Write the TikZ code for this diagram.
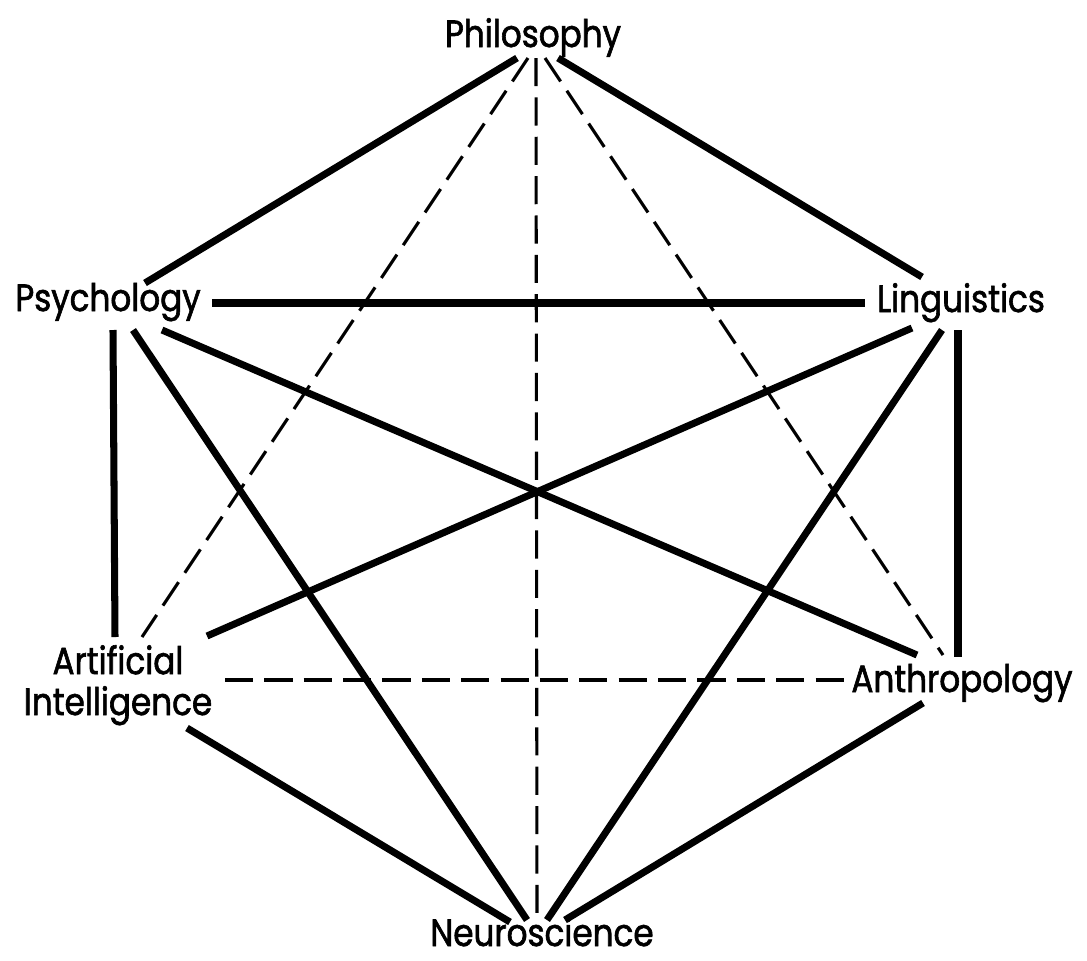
\documentclass[tikz,border=0pt]{standalone}
\usepackage{fontspec}
\setmainfont{Poppins}[FakeStretch=0.86,FakeBold=1.6]
\usetikzlibrary{calc}
\begin{document}
\begin{tikzpicture}[x=0.025cm,y=-0.025cm,
  lbl/.style={inner sep=0pt,anchor=base,font=\fontsize{27pt}{28.4pt}\selectfont},
  strong/.style={line width=5pt},
  weak/.style={line width=2.2pt,dash pattern=on 20pt off 8pt}]
\useasboundingbox (0,0) rectangle (1087,961);
\node[lbl] (phil) at (533,47) {Philosophy};
\node[lbl] (psy) at (108,311) {Psychology};
\node[lbl] (ling) at (961,312) {Linguistics};
\node[lbl] (ai) at (118,715) {\begin{tabular}[b]{@{}c@{}}Artificial\\Intelligence\end{tabular}};
\node[lbl] (anth) at (962,692) {Anthropology};
\node[lbl] (neu) at (542,946) {Neuroscience};
% Philosophy
\draw[strong] ($(phil.base)+(-16,11)$) -- ($(psy.base)+(37,-28)$);
\draw[weak] ($(phil.base)+(-5,11)$) -- ($(ai.base)+(24,-78)$);
\draw[weak] ($(phil.base)+(3,11)$) -- ($(neu.base)+(-5,-26)$);
\draw[weak] ($(phil.base)+(12,11)$) -- ($(anth.base)+(-19,-37)$);
\draw[strong] ($(phil.base)+(25,11)$) -- ($(ling.base)+(-39,-35)$);
% Psychology
\draw[strong] ($(psy.base)+(104,-8)$) -- ($(ling.base)+(-96,-9)$);
\draw[strong] ($(psy.base)+(5,19)$) -- ($(ai.base)+(-3,-78)$);
\draw[strong] ($(psy.base)+(25,19)$) -- ($(neu.base)+(-15,-26)$);
\draw[strong] ($(psy.base)+(54,19)$) -- ($(anth.base)+(-45,-37)$);
% Linguistics
\draw[strong] ($(ling.base)+(-49,16)$) -- ($(ai.base)+(89,-79)$);
\draw[strong] ($(ling.base)+(-19,18)$) -- ($(neu.base)+(5,-26)$);
\draw[strong] ($(ling.base)+(-3,18)$) -- ($(anth.base)+(-4,-35)$);
% Artificial Intelligence
\draw[weak] ($(ai.base)+(107,-35)$) -- ($(anth.base)+(-114,-12)$);
\draw[strong] ($(ai.base)+(69,13)$) -- ($(neu.base)+(-32,-24)$);
% Anthropology
\draw[strong] ($(anth.base)+(-39,11)$) -- ($(neu.base)+(23,-26)$);
\end{tikzpicture}
\end{document}
